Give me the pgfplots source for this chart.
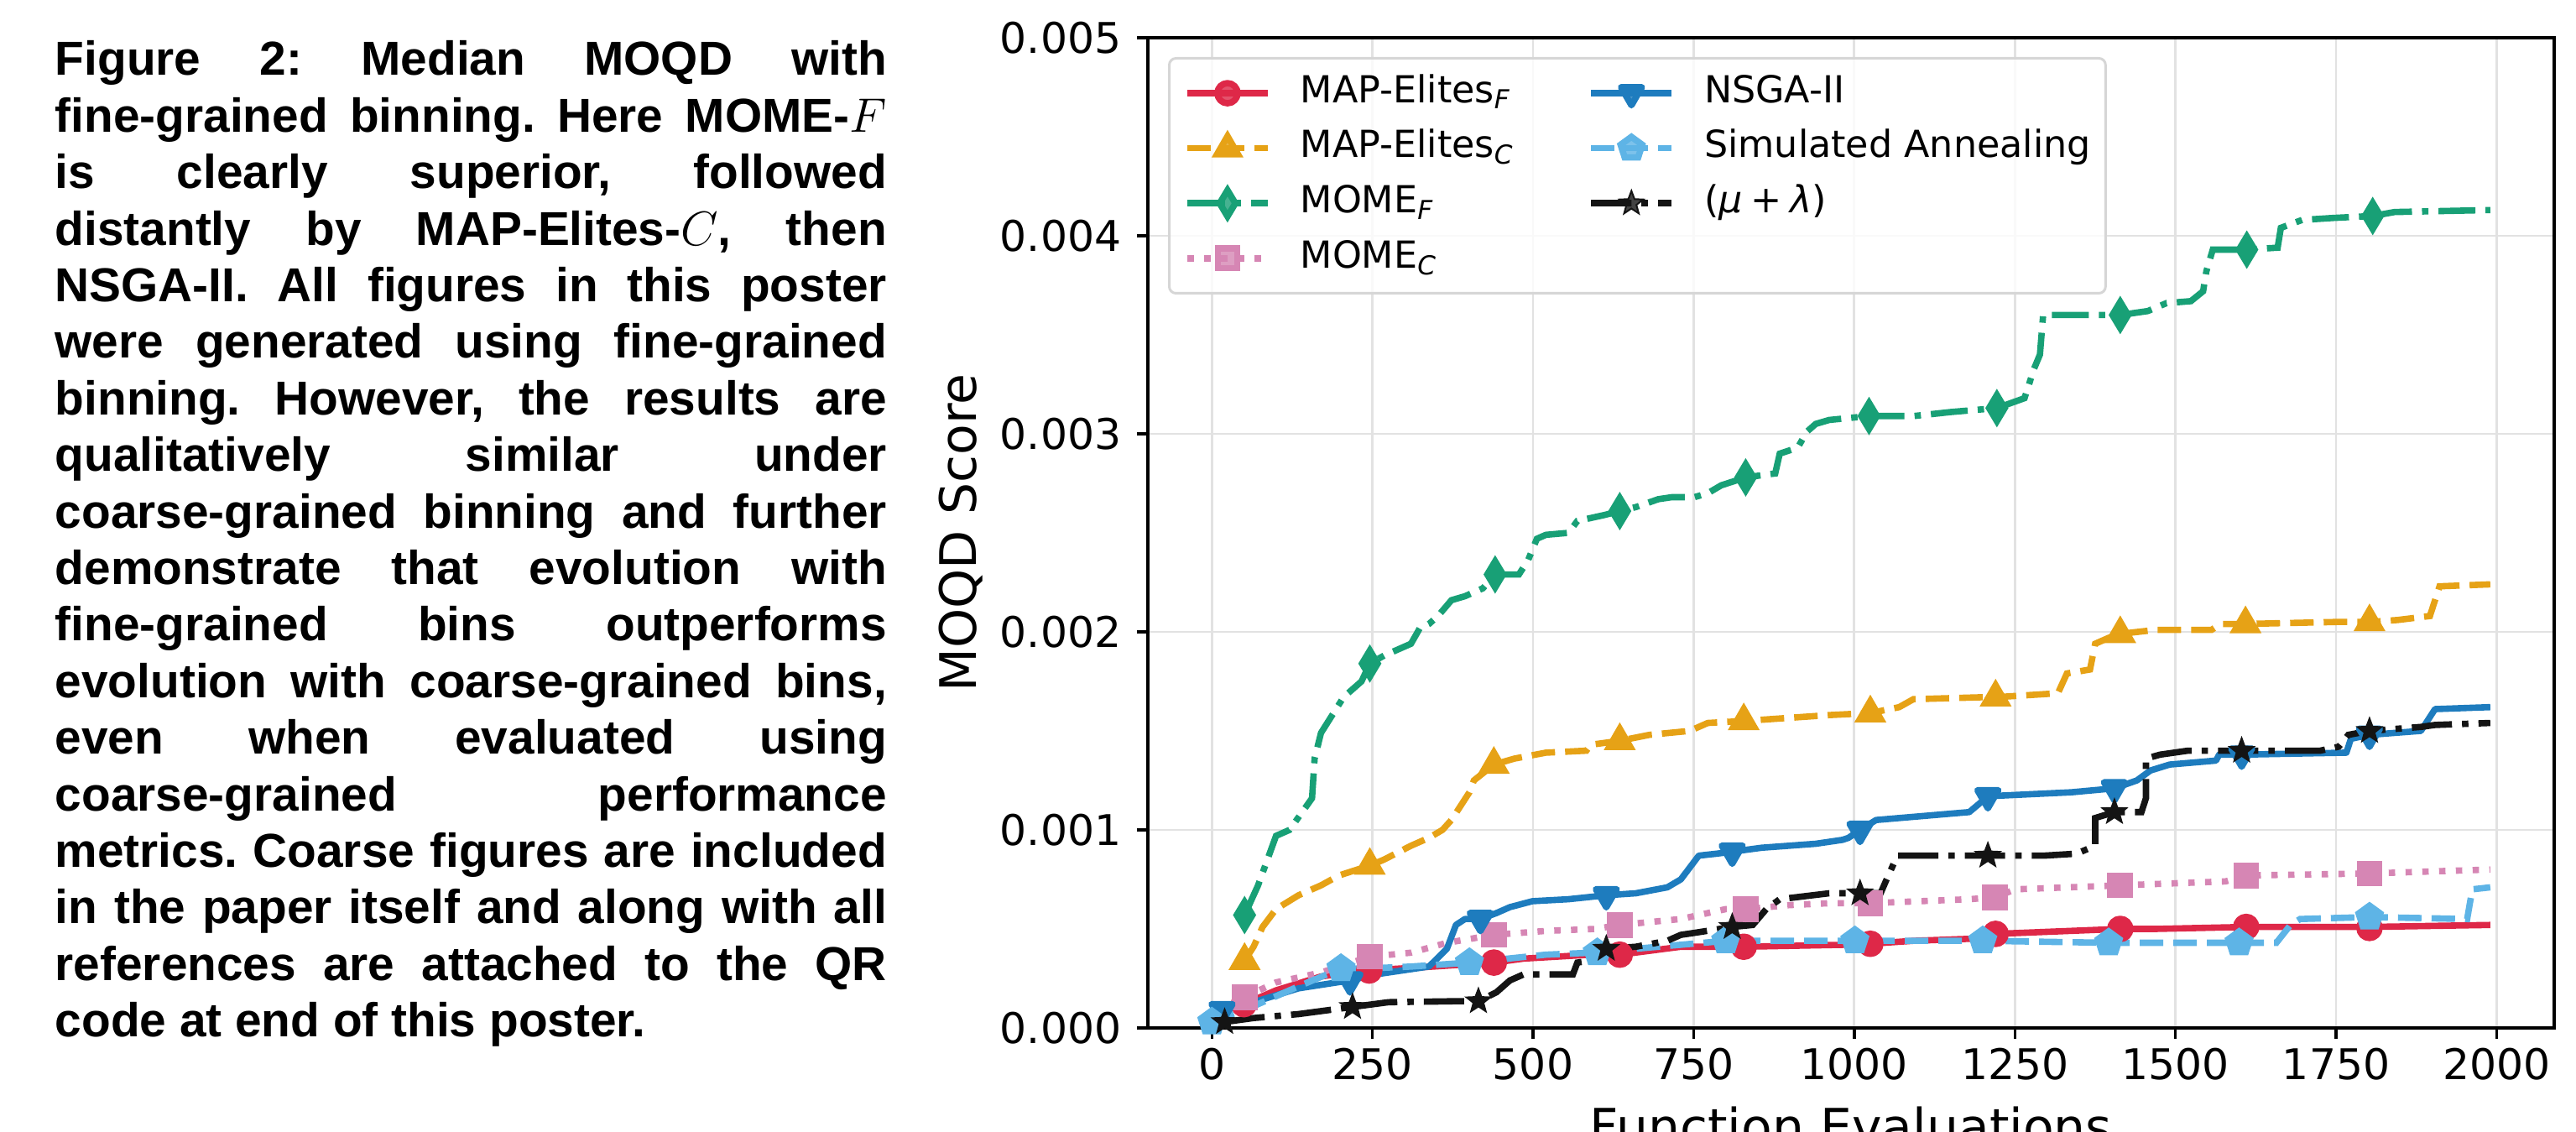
\documentclass[border=0pt]{standalone}
\usepackage{pgfplots}
\pgfplotsset{compat=1.18}
\usepackage{fontspec}
\usetikzlibrary{plotmarks}
\setmainfont{Liberation Sans}
\newfontfamily\dejavu{DejaVu Sans}
\definecolor{cred}{RGB}{222,40,72}
\definecolor{cyel}{RGB}{230,162,22}
\definecolor{cgrn}{RGB}{24,160,118}
\definecolor{cpnk}{RGB}{214,134,180}
\definecolor{cblu}{RGB}{30,124,190}
\definecolor{clbl}{RGB}{94,180,230}
\definecolor{cblk}{RGB}{20,20,20}
\definecolor{gridgray}{RGB}{226,226,226}
\definecolor{legendgray}{RGB}{214,214,214}
\pgfdeclareplotmark{fstar}{%
  \pgfpathmoveto{\pgfqpointpolar{90}{\pgfplotmarksize}}%
  \pgfpathlineto{\pgfqpointpolar{126}{0.42\pgfplotmarksize}}%
  \pgfpathlineto{\pgfqpointpolar{162}{\pgfplotmarksize}}%
  \pgfpathlineto{\pgfqpointpolar{198}{0.42\pgfplotmarksize}}%
  \pgfpathlineto{\pgfqpointpolar{234}{\pgfplotmarksize}}%
  \pgfpathlineto{\pgfqpointpolar{270}{0.42\pgfplotmarksize}}%
  \pgfpathlineto{\pgfqpointpolar{306}{\pgfplotmarksize}}%
  \pgfpathlineto{\pgfqpointpolar{342}{0.42\pgfplotmarksize}}%
  \pgfpathlineto{\pgfqpointpolar{18}{\pgfplotmarksize}}%
  \pgfpathlineto{\pgfqpointpolar{54}{0.42\pgfplotmarksize}}%
  \pgfpathclose
  \pgfusepathqfillstroke}
\pgfplotsset{
  sA/.style={color=cred, line width=1.9pt, solid, line join=round},
  mA/.style={mark=*, mark size=3pt, mark options={solid, fill=cred}},
  sB/.style={color=cyel, line width=1.9pt, dash pattern=on 7pt off 3pt},
  mB/.style={mark=triangle*, mark size=3.6pt, mark options={solid, fill=cyel}},
  sC/.style={color=cgrn, line width=1.9pt, dash pattern=on 11pt off 3pt on 1.9pt off 3pt},
  mC/.style={mark=diamond*, mark size=3.9pt, mark options={solid, fill=cgrn, xscale=0.8}},
  sD/.style={color=cpnk, line width=1.9pt, dash pattern=on 1.9pt off 3.1pt},
  mD/.style={mark=square*, mark size=2.9pt, mark options={solid, fill=cpnk}},
  sE/.style={color=cblu, line width=1.9pt, solid, line join=round},
  mE/.style={mark=triangle*, mark size=3.6pt, mark options={solid, fill=cblu, rotate=180}},
  sF/.style={color=clbl, line width=1.9pt, dash pattern=on 7pt off 3pt},
  mF/.style={mark=pentagon*, mark size=3.4pt, mark options={solid, fill=clbl}},
  sG/.style={color=cblk, line width=1.9pt, dash pattern=on 12pt off 3pt on 1.9pt off 3pt},
  mG/.style={mark=fstar, mark size=3.7pt, mark options={solid, fill=cblk, line width=0.5pt, line join=miter}},
}
\begin{document}
\begin{tikzpicture}
\path[use as bounding box] (0,0) rectangle (767.5pt,337pt);
\node[anchor=base west, inner sep=0pt] at (16.25pt,314.5pt) {\vtop{\fontsize{14.2}{16.85}\selectfont\bfseries\frenchspacing
\hsize=247.75pt \parindent=0pt \parskip=0pt \baselineskip=16.85pt
\makebox[\hsize][s]{Figure 2: Median MOQD with}\par
\makebox[\hsize][s]{fine-grained binning. Here MOME-$F$}\par
\makebox[\hsize][s]{is clearly superior, followed}\par
\makebox[\hsize][s]{distantly by MAP-Elites-$C$, then}\par
\makebox[\hsize][s]{NSGA-II. All figures in this poster}\par
\makebox[\hsize][s]{were generated using fine-grained}\par
\makebox[\hsize][s]{binning. However, the results are}\par
\makebox[\hsize][s]{qualitatively similar under}\par
\makebox[\hsize][s]{coarse-grained binning and further}\par
\makebox[\hsize][s]{demonstrate that evolution with}\par
\makebox[\hsize][s]{fine-grained bins outperforms}\par
\makebox[\hsize][s]{evolution with coarse-grained bins,}\par
\makebox[\hsize][s]{even when evaluated using}\par
\makebox[\hsize][s]{coarse-grained performance}\par
\makebox[\hsize][s]{metrics. Coarse figures are included}\par
\makebox[\hsize][s]{in the paper itself and along with all}\par
\makebox[\hsize][s]{references are attached to the QR}\par
code at end of this poster.\par}};
\begin{axis}[
  at={(342pt,30.75pt)}, anchor=south west,
  scale only axis, width=419pt, height=295pt,
  xmin=-99.5, xmax=2089.5, ymin=0, ymax=0.005,
  xtick={0,250,500,750,1000,1250,1500,1750,2000},
  ytick={0,0.001,0.002,0.003,0.004,0.005},
  tick pos=left,
  scaled y ticks=false, scaled x ticks=false,
  /pgf/number format/assume math mode=true,
  /pgf/number format/1000 sep={},
  xticklabel style={/pgf/number format/fixed, /pgf/number format/precision=0},
  yticklabel style={/pgf/number format/fixed, /pgf/number format/precision=3, /pgf/number format/fixed zerofill},
  tick label style={font=\dejavu\fontsize{12.6}{15}\selectfont},
  tick align=outside, major tick length=3.25pt,
  tick style={line width=0.85pt, color=black},
  axis line style={line width=0.85pt},
  grid=major, grid style={line width=0.7pt, color=gridgray},
  xticklabel style={anchor=north, inner sep=0pt, yshift=-2.5pt},
  yticklabel style={anchor=east, inner sep=0pt, xshift=-4.5pt},
  xlabel={Function Evaluations}, ylabel={MOQD Score},
  label style={font=\dejavu\fontsize{15}{18}\selectfont},
  xlabel style={at={(axis description cs:0.5,-0.0788)}, anchor=north, inner sep=0pt},
  ylabel style={at={(axis description cs:-0.13305,0.5)}, anchor=center, inner sep=0pt},
  legend columns=2, legend cell align=left,
  legend style={at={(axis description cs:0.01432,0.98051)}, anchor=north west,
    draw=legendgray, line width=0.75pt, rounded corners=2pt, fill=white, fill opacity=0.8, text opacity=1,
    font=\dejavu\fontsize{11.1}{13}\selectfont,
    inner xsep=4.4pt, inner ysep=4.8pt, row sep=5.2pt,
    nodes={inner sep=0pt, text height=8.4pt, text depth=2.8pt},
    /tikz/every odd column/.append style={column sep=8.75pt},
    /tikz/every even column/.append style={column sep=22pt}},
  legend image code/.code={\draw[mark repeat=2,mark phase=2,#1] plot coordinates {(0pt,0pt) (12pt,0pt) (24pt,0pt)};},
]
\addlegendimage{sA,mA}\addlegendentry{MAP-Elites\textsubscript{\textit{F}}}
\addlegendimage{sE,mE}\addlegendentry{NSGA-II}
\addlegendimage{sB,mB}\addlegendentry{MAP-Elites\textsubscript{\textit{C}}}
\addlegendimage{sF,mF}\addlegendentry{Simulated Annealing}
\addlegendimage{sC,mC}\addlegendentry{MOME\textsubscript{\textit{F}}}
\addlegendimage{sG,mG}\addlegendentry{(\textit{μ}\hspace{0.22em}+\hspace{0.22em}\textit{λ})}
\addlegendimage{sD,mD}\addlegendentry{MOME\textsubscript{\textit{C}}}
% MAP-Elites_F
\addplot[sA, no markers, forget plot] coordinates {(50,0.00012) (100,0.00019) (170,0.00026) (240,0.00029) (345,0.00031) (439,0.00033) (485,0.00035) (590,0.00037) (635,0.00037) (730,0.00041) (828,0.00041) (987,0.00042) (1025,0.000425) (1092,0.00044) (1179,0.00045) (1220,0.000475) (1414,0.0005) (1469,0.0005) (1610,0.00051) (1802,0.00051) (1990,0.00052)};
\addplot[sA, mA, only marks, forget plot] coordinates {(50,0.00012) (245,0.00029) (439,0.00033) (635,0.00037) (828,0.00041) (1025,0.000425) (1220,0.000475) (1414,0.0005) (1610,0.00051) (1802,0.000505)};
% MAP-Elites_C
\addplot[sB, no markers, forget plot] coordinates {(51,0.00034) (65,0.00041) (79,0.00051) (100,0.0006) (135,0.00067) (170,0.00072) (198,0.00077) (246,0.00082) (268,0.00085) (310,0.00092) (338,0.00096) (359,0.001) (373,0.00105) (387,0.00112) (401,0.00119) (408,0.00125) (439,0.00133) (471,0.00136) (520,0.00139) (583,0.0014) (590,0.00143) (635,0.00145) (681,0.00148) (744,0.0015) (772,0.00154) (828,0.00155) (962,0.00158) (1025,0.00159) (1070,0.00162) (1092,0.00166) (1200,0.00167) (1220,0.00167) (1317,0.00169) (1331,0.00179) (1367,0.00181) (1375,0.00194) (1396,0.00197) (1414,0.00199) (1469,0.00201) (1556,0.00201) (1570,0.00204) (1609,0.00204) (1751,0.00205) (1802,0.00205) (1846,0.00206) (1896,0.00208) (1904,0.00216) (1911,0.00223) (1990,0.00224)};
\addplot[sB, mB, only marks, forget plot] coordinates {(51,0.00034) (246,0.00082) (439,0.00133) (635,0.00145) (828,0.00155) (1025,0.00159) (1220,0.00167) (1414,0.00199) (1609,0.00204) (1802,0.00205)};
% MOME_F
\addplot[sC, no markers, forget plot] coordinates {(51,0.00057) (72,0.00072) (100,0.00097) (121,0.001) (156,0.00116) (160,0.00136) (170,0.00149) (205,0.00167) (233,0.00175) (246,0.00184) (268,0.00188) (310,0.00194) (324,0.00202) (338,0.00204) (352,0.00208) (373,0.00216) (394,0.00218) (422,0.00222) (441,0.00229) (478,0.00229) (492,0.00236) (506,0.00247) (520,0.00249) (555,0.0025) (569,0.00256) (611,0.00259) (635,0.00261) (660,0.00263) (695,0.00267) (716,0.00268) (751,0.00268) (772,0.0027) (793,0.00274) (831,0.00278) (877,0.0028) (884,0.0029) (912,0.00293) (926,0.00301) (940,0.00305) (961,0.00307) (1023,0.00309) (1093,0.00309) (1150,0.00311) (1222,0.00313) (1265,0.00318) (1280,0.00333) (1289,0.0034) (1294,0.0036) (1414,0.0036) (1457,0.00362) (1486,0.00366) (1524,0.00367) (1543,0.00372) (1548,0.00382) (1558,0.00393) (1611,0.00393) (1659,0.00394) (1664,0.00404) (1697,0.00408) (1745,0.00409) (1807,0.0041) (1841,0.00412) (1990,0.00413)};
\addplot[sC, mC, only marks, forget plot] coordinates {(51,0.00057) (246,0.00184) (441,0.00229) (635,0.00261) (831,0.00278) (1023,0.00309) (1222,0.00313) (1414,0.0036) (1611,0.00393) (1807,0.0041)};
% MOME_C
\addplot[sD, no markers, forget plot] coordinates {(51,0.000156) (100,0.00023) (170,0.00028) (246,0.00036) (310,0.00038) (366,0.00043) (439,0.00047) (520,0.00049) (597,0.0005) (635,0.00052) (730,0.00055) (800,0.0006) (831,0.0006) (898,0.00062) (962,0.00063) (1025,0.00063) (1179,0.00065) (1219,0.00066) (1251,0.0007) (1414,0.00072) (1578,0.00074) (1610,0.00077) (1802,0.00078) (1990,0.0008)};
\addplot[sD, mD, only marks, forget plot] coordinates {(51,0.000156) (246,0.00036) (439,0.00047) (635,0.00052) (831,0.0006) (1025,0.00063) (1219,0.00066) (1414,0.00072) (1610,0.00077) (1802,0.00078)};
% NSGA-II
\addplot[sE, no markers, forget plot] coordinates {(16,0.00009) (65,0.00013) (135,0.0002) (215,0.00024) (254,0.00027) (338,0.00031) (366,0.0004) (380,0.00052) (394,0.00055) (418,0.00055) (443,0.00058) (464,0.00061) (499,0.00064) (555,0.00065) (614,0.00067) (660,0.00068) (709,0.00071) (730,0.00075) (758,0.00087) (786,0.00088) (810,0.00089) (856,0.00091) (940,0.00093) (982,0.00095) (991,0.00096) (1009,0.001) (1034,0.00105) (1179,0.00109) (1201,0.00115) (1208,0.00117) (1338,0.00119) (1405,0.00121) (1440,0.00125) (1461,0.0013) (1491,0.00133) (1563,0.00135) (1568,0.00138) (1603,0.00138) (1766,0.00139) (1773,0.00146) (1802,0.00148) (1882,0.0015) (1896,0.00157) (1904,0.00161) (1990,0.00162)};
\addplot[sE, mE, only marks, forget plot] coordinates {(16,0.00009) (215,0.00024) (418,0.00055) (614,0.00067) (810,0.00089) (1009,0.001) (1208,0.00117) (1405,0.00121) (1603,0.00138) (1802,0.00148)};
% Simulated Annealing
\addplot[sF, no markers, forget plot] coordinates {(0,0.00003) (65,0.00011) (135,0.00021) (201,0.0003) (240,0.0003) (310,0.00031) (401,0.00033) (520,0.00037) (590,0.00038) (800,0.00044) (987,0.00044) (1106,0.00044) (1200,0.00044) (1396,0.00043) (1599,0.00043) (1657,0.00043) (1679,0.00052) (1694,0.00055) (1802,0.00056) (1954,0.00055) (1962,0.0007) (1990,0.00071)};
\addplot[sF, mF, only marks, forget plot] coordinates {(0,0.00003) (201,0.0003) (401,0.00033) (600,0.00038) (800,0.00044) (1001,0.00044) (1200,0.00044) (1396,0.00043) (1599,0.00043) (1802,0.00056)};
% (mu+lambda)
\addplot[sG, no markers, forget plot] coordinates {(20,0.00003) (65,0.00005) (135,0.00007) (219,0.000106) (275,0.00013) (380,0.000135) (415,0.000135) (443,0.00018) (464,0.00024) (485,0.00027) (562,0.00027) (569,0.00033) (590,0.00034) (604,0.0004) (614,0.0004) (660,0.00041) (709,0.00044) (730,0.00047) (751,0.00048) (810,0.00051) (842,0.00052) (863,0.0006) (884,0.00065) (961,0.00068) (1041,0.00068) (1049,0.00074) (1067,0.00087) (1295,0.00087) (1346,0.00088) (1375,0.00092) (1375,0.00106) (1405,0.00109) (1447,0.00109) (1454,0.00116) (1454,0.00136) (1476,0.00138) (1519,0.0014) (1725,0.0014) (1754,0.00142) (1769,0.00148) (1802,0.0015) (1882,0.00152) (1904,0.00153) (1990,0.00154)};
\addplot[sG, mG, only marks, forget plot] coordinates {(20,0.00003) (219,0.000106) (415,0.000135) (614,0.0004) (810,0.00051) (1009,0.00068) (1208,0.00087) (1405,0.00109) (1603,0.0014) (1802,0.0015)};
\end{axis}
\end{tikzpicture}
\end{document}
